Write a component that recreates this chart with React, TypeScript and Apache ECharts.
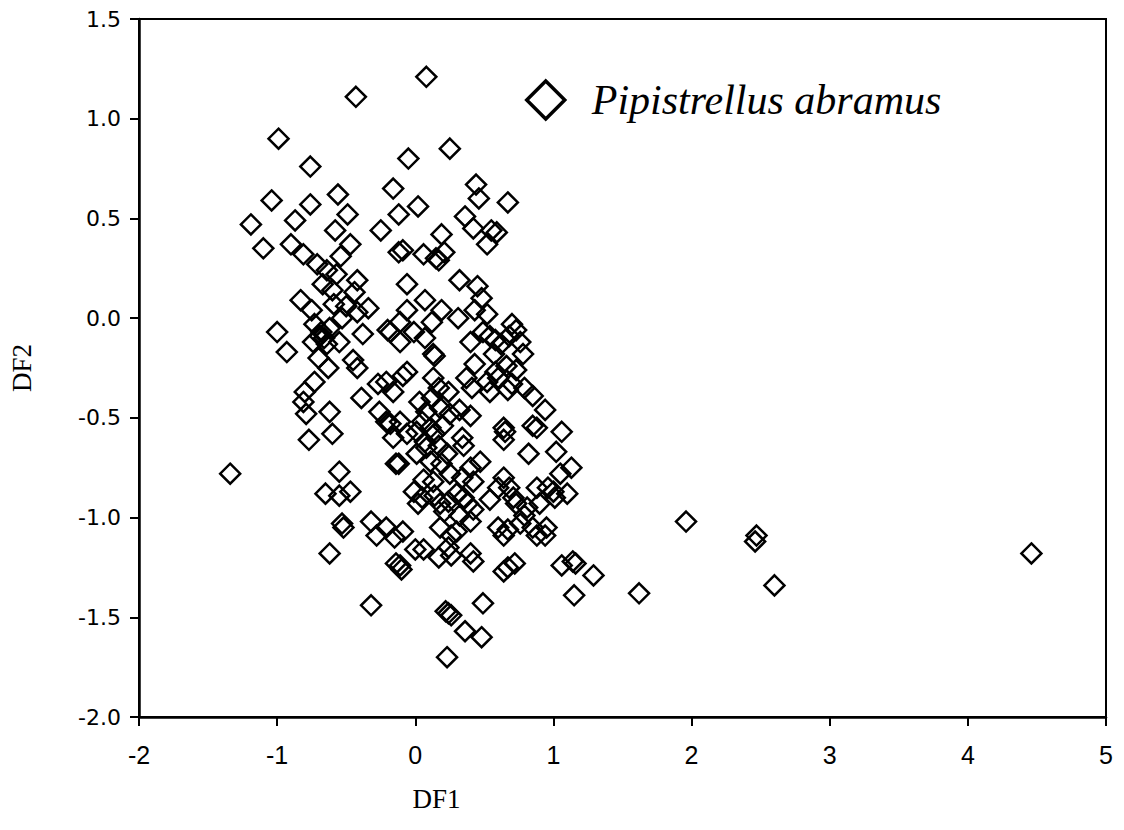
import React, { useEffect, useRef } from "react";
import * as echarts from "echarts";

// Axis ranges / tick steps (ticks: -2..5 for DF1, -2.0..1.5 for DF2)
const df1Range = [-2, 5];
const df1Step = 1;
const df2Range = [-2, 1.5];
const df2Step = 0.5;

const seriesName = "Pipistrellus abramus";

// Discriminant scores [DF1, DF2]
const upperGroup: [number, number][] = [
  [-0.43, 1.11], [-0.99, 0.9], [-0.76, 0.76], [-1.04, 0.59], [-0.76, 0.57],
  [-0.56, 0.62], [-0.49, 0.52], [-1.19, 0.47], [-0.87, 0.49], [-0.58, 0.44],
  [-0.25, 0.44], [-0.16, 0.65], [-0.12, 0.52], [-1.1, 0.35], [-0.9, 0.37],
  [-0.47, 0.37], [-0.81, 0.32], [-0.54, 0.31], [-0.12, 0.33], [0.08, 1.21],
  [0.25, 0.85], [-0.05, 0.8], [0.44, 0.67], [0.46, 0.6], [0.67, 0.58],
  [0.02, 0.56], [0.36, 0.51], [0.42, 0.45], [0.55, 0.44], [0.59, 0.43],
  [0.52, 0.37], [0.19, 0.42], [-0.09, 0.34], [0.06, 0.32], [0.21, 0.33],
  [0.15, 0.3],
];

const leftGroup: [number, number][] = [
  [-0.71, 0.27], [-0.64, 0.24], [-0.57, 0.22], [-0.42, 0.19], [-0.67, 0.17],
  [-0.6, 0.14], [-0.44, 0.13], [-0.83, 0.09], [-0.75, 0.04], [-0.59, 0.07],
  [-0.5, 0.06], [-0.34, 0.05], [-0.53, 0.0], [-0.42, 0.03], [-0.73, -0.03],
  [-1.0, -0.07], [-0.69, -0.09], [-0.74, -0.12], [-0.64, -0.13], [-0.68, -0.07],
  [-0.55, -0.12], [-0.93, -0.17], [-0.7, -0.2], [-0.63, -0.25], [-0.45, -0.21],
  [-0.42, -0.25], [-0.38, -0.08], [-0.18, -0.07], [-0.73, -0.32], [-0.8, -0.37],
  [-0.81, -0.42], [-0.27, -0.33], [-0.39, -0.4], [-0.16, -0.37], [-0.79, -0.48],
  [-0.62, -0.47], [-0.26, -0.47], [-0.18, -0.53], [-0.77, -0.61], [-0.6, -0.58],
  [-0.21, -0.52], [-0.66, -0.1], [-0.62, -0.05],
  [-1.34, -0.78], [-0.55, -0.77], [-0.65, -0.88], [-0.55, -0.89], [-0.47, -0.87],
  [-0.53, -1.03], [-0.52, -1.05], [-0.62, -1.18], [-0.32, -1.02], [-0.28, -1.09],
  [-0.21, -1.05], [-0.14, -1.23], [-0.32, -1.44], [-0.14, -0.73], [-0.16, -0.6],
];

const centralGroup: [number, number][] = [
  [0.17, 0.29], [-0.06, 0.17], [0.32, 0.19], [0.45, 0.16], [0.48, 0.1],
  [0.07, 0.09], [-0.06, 0.04], [0.19, 0.04], [0.12, -0.02], [0.31, 0.0],
  [0.43, 0.04], [0.52, 0.02], [-0.2, -0.06], [-0.11, -0.02], [-0.01, -0.07],
  [-0.11, -0.12], [0.07, -0.1], [0.13, -0.18], [0.14, -0.19], [0.4, -0.12],
  [0.49, -0.07], [0.54, -0.09], [0.58, -0.11], [0.62, -0.13], [0.68, -0.09],
  [0.7, -0.03], [0.73, -0.06], [0.76, -0.12], [0.57, -0.18], [0.78, -0.18],
  [0.43, -0.23], [0.66, -0.24], [0.73, -0.26], [0.58, -0.27], [-0.09, -0.29],
  [-0.21, -0.32], [0.13, -0.3], [0.17, -0.35], [0.37, -0.3], [0.41, -0.35],
  [0.52, -0.32], [0.6, -0.3], [0.7, -0.33], [0.79, -0.35], [0.85, -0.39],
  [0.94, -0.46], [0.54, -0.37], [0.67, -0.36], [-0.06, -0.27], [0.24, -0.37],
  [0.03, -0.42], [0.12, -0.4], [0.08, -0.47], [0.18, -0.45], [0.25, -0.48],
  [0.32, -0.46], [0.4, -0.49], [0.05, -0.52], [0.11, -0.55], [0.2, -0.54],
  [-0.11, -0.52], [-0.06, -0.58], [0.01, -0.57], [0.64, -0.55], [0.85, -0.54],
  [1.06, -0.57], [0.34, -0.6],
];

const lowerGroup: [number, number][] = [
  [0.07, -0.62], [0.14, -0.58], [0.65, -0.57], [0.64, -0.61], [0.88, -0.55],
  [0.35, -0.64], [0.82, -0.68], [1.02, -0.67], [-0.12, -0.73], [0.01, -0.68],
  [0.08, -0.65], [0.17, -0.64], [0.11, -0.72], [0.19, -0.73], [0.23, -0.68],
  [0.47, -0.72], [0.4, -0.75], [0.25, -0.78], [0.06, -0.81], [0.13, -0.82],
  [0.34, -0.8], [0.42, -0.82], [0.64, -0.8], [1.13, -0.75], [1.05, -0.78],
  [0.96, -0.85], [0.88, -0.85], [0.68, -0.85], [0.6, -0.85], [0.54, -0.91],
  [0.71, -0.9], [0.73, -0.93], [0.81, -0.95], [0.9, -0.93], [1.0, -0.87],
  [1.01, -0.9], [1.1, -0.88], [-0.01, -0.87], [0.02, -0.93], [0.05, -0.9],
  [0.14, -0.89], [0.18, -0.93], [0.21, -0.97], [0.24, -0.92], [0.3, -0.88],
  [0.35, -0.9], [0.38, -0.93], [0.42, -0.96], [0.32, -0.99], [0.4, -1.02],
  [0.6, -1.05], [0.64, -1.09], [0.67, -1.06], [0.76, -1.03], [0.85, -1.05],
  [0.88, -1.09], [0.94, -1.09], [0.95, -1.05], [0.79, -0.99], [0.18, -1.05],
  [0.26, -1.09], [0.3, -1.07], [-0.09, -1.07], [-0.15, -1.1], [0.0, -1.16],
  [0.06, -1.16], [-0.11, -1.24], [-0.1, -1.26], [0.17, -1.2], [0.24, -1.15],
  [0.26, -1.19], [0.4, -1.18], [0.42, -1.22], [0.64, -1.27], [0.67, -1.25],
  [0.72, -1.23], [1.06, -1.24], [1.14, -1.22], [1.15, -1.39], [0.49, -1.43],
  [0.24, -1.48], [0.26, -1.49], [0.22, -1.47], [0.36, -1.57], [0.48, -1.6],
  [0.23, -1.7], [1.16, -1.23],
];

const outliers: [number, number][] = [
  [1.96, -1.02], [2.47, -1.09], [2.46, -1.12], [1.29, -1.29], [1.62, -1.38],
  [2.6, -1.34], [4.46, -1.18],
];

export default function App() {
  const ref = useRef<HTMLDivElement>(null);

  useEffect(() => {
    if (!ref.current) return;
    const chart = echarts.init(ref.current, undefined, { renderer: "svg" });
    const data = [...upperGroup, ...leftGroup, ...centralGroup, ...lowerGroup, ...outliers];

    chart.setOption({
      animation: false,
      backgroundColor: "#fff",
      grid: {
        left: 139,
        top: 19,
        right: 18,
        bottom: 113,
        show: true,
        borderColor: "#000",
        borderWidth: 2,
        backgroundColor: "transparent",
      },
      legend: {
        data: [seriesName],
        left: 520,
        top: 74,
        icon: "diamond",
        itemWidth: 38,
        itemHeight: 38,
        itemStyle: { color: "transparent", borderColor: "#000", borderWidth: 3.5, opacity: 1 },
        textStyle: {
          fontFamily: "Liberation Serif",
          fontStyle: "italic",
          fontSize: 42,
          color: "#000",
          padding: [0, 0, 0, 22],
        },
        selectedMode: false,
      },
      xAxis: {
        type: "value",
        min: df1Range[0],
        max: df1Range[1],
        interval: df1Step,
        name: "DF1",
        nameLocation: "middle",
        nameGap: 68,
        nameTextStyle: {
          fontFamily: "Liberation Serif",
          fontSize: 27,
          color: "#000",
          padding: [0, 372, 0, 0],
        },
        axisLine: { show: true, onZero: false, lineStyle: { color: "#000", width: 2.5 } },
        axisTick: { show: true, inside: false, length: 9, lineStyle: { color: "#000", width: 2 } },
        splitLine: { show: false },
        axisLabel: {
          margin: 25,
          fontFamily: "Liberation Sans",
          fontSize: 25,
          color: "#000",
        },
      },
      yAxis: {
        type: "value",
        min: df2Range[0],
        max: df2Range[1],
        interval: df2Step,
        name: "DF2",
        nameLocation: "middle",
        nameGap: 104,
        nameTextStyle: {
          fontFamily: "Liberation Serif",
          fontSize: 27,
          color: "#000",
        },
        axisLine: { show: true, onZero: false, lineStyle: { color: "#000", width: 2.5 } },
        axisTick: { show: true, inside: false, length: 9, lineStyle: { color: "#000", width: 2 } },
        splitLine: { show: false },
        axisLabel: {
          margin: 18,
          fontFamily: "DejaVu Sans",
          fontSize: 22,
          color: "#000",
          formatter: (v: number) => v.toFixed(1),
        },
      },
      series: [
        {
          name: seriesName,
          type: "scatter",
          symbol: "diamond",
          symbolSize: 20,
          itemStyle: { color: "transparent", borderColor: "#000", borderWidth: 2.5, opacity: 1 },
          emphasis: { disabled: true },
          data,
        },
      ],
    });

    return () => chart.dispose();
  }, []);

  return (
    <div
      ref={ref}
      style={{ position: "fixed", left: 0, top: 0, width: 1124, height: 830, background: "#fff" }}
    />
  );
}
